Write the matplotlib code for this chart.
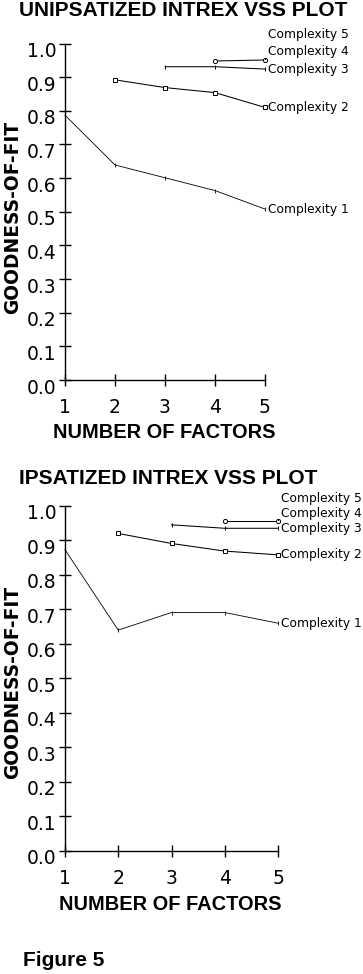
import matplotlib
matplotlib.use('Agg')
import matplotlib.pyplot as plt
import matplotlib.transforms as mtransforms

# ---------------- data ----------------
factors = [1, 2, 3, 4, 5]
y_ticks = [0.0, 0.1, 0.2, 0.3, 0.4, 0.5, 0.6, 0.7, 0.8, 0.9, 1.0]
series_names = ["Complexity 1", "Complexity 2", "Complexity 3", "Complexity 4", "Complexity 5"]

# UNIPSATIZED
uni_c1_x = [1, 2, 3, 4, 5]
uni_c1 = [0.787, 0.639, 0.601, 0.563, 0.508]
uni_c2_x = [2, 3, 4, 5]
uni_c2 = [0.892, 0.869, 0.854, 0.810]
uni_c3_x = [3, 4, 5]
uni_c3 = [0.931, 0.931, 0.924]
uni_c4_x = [4, 5]
uni_c4 = [0.948, 0.951]
uni_c5_x = [5]
uni_c5 = [0.951]

# IPSATIZED
ips_c1_x = [1, 2, 3, 4, 5]
ips_c1 = [0.872, 0.639, 0.690, 0.690, 0.659]
ips_c2_x = [2, 3, 4, 5]
ips_c2 = [0.919, 0.890, 0.868, 0.857]
ips_c3_x = [3, 4, 5]
ips_c3 = [0.944, 0.934, 0.934]
ips_c4_x = [4, 5]
ips_c4 = [0.955, 0.955]
ips_c5_x = [5]
ips_c5 = [0.955]

W, H = 363, 974
fig = plt.figure(figsize=(W / 100, H / 100), dpi=100)
fig.patch.set_facecolor('white')

BOLD = ['Liberation Sans', 'DejaVu Sans']


def fx(px):
    return px / W


def fy(py):
    return 1 - py / H


styles = [
    dict(marker='|', ms=2.5, mew=0.6, lw=0.6),
    dict(marker='s', ms=3.2, mew=0.7, mfc='white', lw=0.75),
    dict(marker='|', ms=3, mew=0.7, lw=0.75),
    dict(marker='o', ms=3, mew=0.7, mfc='white', lw=0.75),
    dict(marker=',', lw=0.75),
]


def draw(ax, xs, ys, label_offsets):
    for i, (x, y) in enumerate(zip(xs, ys)):
        st = styles[i]
        ax.plot(x, y, color='black', clip_on=False, **st)
        dy_px = label_offsets[i]
        ax.annotate(series_names[i], xy=(x[-1], y[-1]),
                    xytext=(3 * 0.72, -dy_px * 0.72), textcoords='offset points',
                    ha='left', va='center', fontsize=8.8, family='DejaVu Sans',
                    annotation_clip=False)
    ax.set_xlim(1, 5)
    ax.set_ylim(0, 1)
    for s in ['top', 'right']:
        ax.spines[s].set_visible(False)
    for s in ['left', 'bottom']:
        ax.spines[s].set_linewidth(1.0)
    ax.set_xticks(factors)
    ax.set_xticklabels([str(f) for f in factors])
    ax.set_yticks(y_ticks)
    ax.set_yticklabels([f'{v:.1f}' for v in y_ticks])
    ax.tick_params(axis='both', direction='inout', length=8, width=1.0,
                   labelsize=13.5)
    ax.tick_params(axis='x', pad=9)
    ax.tick_params(axis='y', pad=2)
    off = mtransforms.ScaledTranslation(0, -6 / 100, fig.dpi_scale_trans)
    for lab in ax.get_yticklabels():
        lab.set_transform(lab.get_transform() + off)
    ax.set_facecolor('none')


# Top axes: x=1 at 65px, x=5 at 265px; y=1.0 at 43.5px, y=0 at 380px
ax1 = fig.add_axes([fx(65), fy(380), fx(200), 336.5 / H])
draw(ax1, [uni_c1_x, uni_c2_x, uni_c3_x, uni_c4_x, uni_c5_x],
     [uni_c1, uni_c2, uni_c3, uni_c4, uni_c5],
     [0, 0, 0, -8, -25])

# Bottom axes: x=1 at 65px, x=5 at 278px; y=1.0 at 505.5, y=0 at 850.7
ax2 = fig.add_axes([fx(65), fy(850.7), fx(213), 345.2 / H])
draw(ax2, [ips_c1_x, ips_c2_x, ips_c3_x, ips_c4_x, ips_c5_x],
     [ips_c1, ips_c2, ips_c3, ips_c4, ips_c5],
     [0, 0, 0, -8, -23])

# Titles and labels
fig.text(fx(183), fy(10), 'UNIPSATIZED INTREX VSS PLOT', ha='center', va='center',
         fontsize=15, fontweight='bold', family=BOLD)
fig.text(fx(168), fy(478), 'IPSATIZED INTREX VSS PLOT', ha='center', va='center',
         fontsize=15, fontweight='bold', family=BOLD)

fig.text(fx(164), fy(432), 'NUMBER OF FACTORS', ha='center', va='center',
         fontsize=14.4, fontweight='bold', family=BOLD)
fig.text(fx(170), fy(905), 'NUMBER OF FACTORS', ha='center', va='center',
         fontsize=14.4, fontweight='bold', family=BOLD)

fig.text(fx(13), fy(217), 'GOODNESS-OF-FIT', ha='center', va='center', rotation=90,
         fontsize=13.4, fontweight='bold', family='DejaVu Sans')
fig.text(fx(13), fy(682), 'GOODNESS-OF-FIT', ha='center', va='center', rotation=90,
         fontsize=13.4, fontweight='bold', family='DejaVu Sans')

fig.text(fx(23), fy(961), 'Figure 5', ha='left', va='center',
         fontsize=15, fontweight='bold', family=BOLD)

fig.savefig('out.png', dpi=100, facecolor='white')
